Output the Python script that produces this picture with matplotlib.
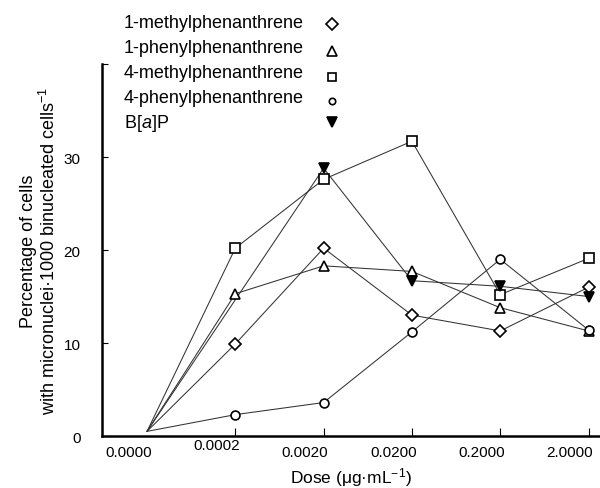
"""
Micronucleus frequency versus dose for phenanthrene derivatives.
"""
import matplotlib
matplotlib.use("Agg")
import matplotlib.pyplot as plt
from matplotlib.lines import Line2D

plt.rcParams["font.family"] = ["Liberation Sans", "DejaVu Sans"]
plt.rcParams["mathtext.fontset"] = "custom"
plt.rcParams["mathtext.rm"] = "Liberation Sans"
plt.rcParams["mathtext.it"] = "Liberation Sans:italic"

doses = ["0.0000", "0.0002", "0.0020", "0.0200", "0.2000", "2.0000"]
positions = [0, 1, 2, 3, 4, 5]

methyl_1 = [0.5, 9.9, 20.2, 13.0, 11.3, 16.0]
phenyl_1 = [0.5, 15.3, 18.3, 17.7, 13.8, 11.3]
methyl_4 = [0.5, 20.2, 27.6, 31.7, 15.2, 19.1]
phenyl_4 = [0.5, 2.3, 3.6, 11.2, 19.0, 11.4]
# B[a]P has no point at 0.0002
bap_positions = [0, 2, 3, 4, 5]
bap = [0.5, 28.8, 16.7, 16.1, 15.0]

# label, x, y, marker, face, size in plot, size in legend
series = [
    ("1-methylphenanthrene", positions, methyl_1, "D", "white", 6.6, 6.0),
    ("1-phenylphenanthrene", positions, phenyl_1, "^", "white", 7.2, 6.5),
    ("4-methylphenanthrene", positions, methyl_4, "s", "white", 6.8, 5.8),
    ("4-phenylphenanthrene", positions, phenyl_4, "o", "white", 6.4, 4.6),
    ("B[$\\mathit{a}$]P", bap_positions, bap, "v", "black", 7.0, 6.5),
]

fig = plt.figure(figsize=(6.0, 4.89), dpi=100)
ax = fig.add_axes([0.17, 0.1063, 0.83, 0.7607])

for label, xs, ys, marker, face, size, _ in series:
    ax.plot(xs, ys, color="#333333", linewidth=0.75, zorder=2)
    ax.plot(xs[1:], ys[1:], linestyle="none", marker=marker, markersize=size,
            markerfacecolor=face, markeredgecolor="black", markeredgewidth=1.2,
            zorder=3)

ax.set_xlim(-0.51, 5.13)
ax.set_ylim(0, 40)
ax.spines["top"].set_visible(False)
ax.spines["right"].set_visible(False)
ax.spines["left"].set_linewidth(1.8)
ax.spines["bottom"].set_linewidth(1.8)

ax.set_yticks([0, 10, 20, 30, 40])
ax.set_yticklabels(["0", "10", "20", "30", ""])
ax.tick_params(axis="y", direction="in", length=4, width=0.8, pad=15.5, labelsize=11)

# tick marks on the doses; the labels sit a little left of them
ax.set_xticks(positions[1:])
ax.set_xticklabels([])
ax.tick_params(axis="x", direction="in", length=6, width=0.8)
label_y = [-0.043, -0.024, -0.043, -0.043, -0.043, -0.043]
for pos, dose, ly in zip(positions, doses, label_y):
    ax.text(pos - 0.21, ly, dose, transform=ax.get_xaxis_transform(),
            ha="center", va="center", fontsize=11)

ax.set_xlabel("Dose (μg·mL$^{-1}$)", fontsize=12.5, va="center")
ax.xaxis.set_label_coords(0.5, -0.11)
ax.set_ylabel("Percentage of cells\nwith micronuclei·1000 binucleated cells$^{-1}$",
              fontsize=13, va="center", linespacing=1.1)
ax.yaxis.set_label_coords(-0.1255, 0.5)

# legend drawn by hand: names on the left, markers to the right
text_rows = [24, 49, 74, 99, 123]
marker_rows = [25, 52, 78, 102, 123]
for (label, xs, ys, marker, face, _, lsize), trow, mrow in zip(series, text_rows, marker_rows):
    fig.text(124 / 600, 1 - trow / 489, label, fontsize=13, va="center", ha="left")
    fig.add_artist(Line2D([332 / 600], [1 - mrow / 489], transform=fig.transFigure,
                          linestyle="none", marker=marker, markersize=lsize,
                          markerfacecolor=face, markeredgecolor="black",
                          markeredgewidth=1.2))

fig.savefig("out.png", dpi=100)
